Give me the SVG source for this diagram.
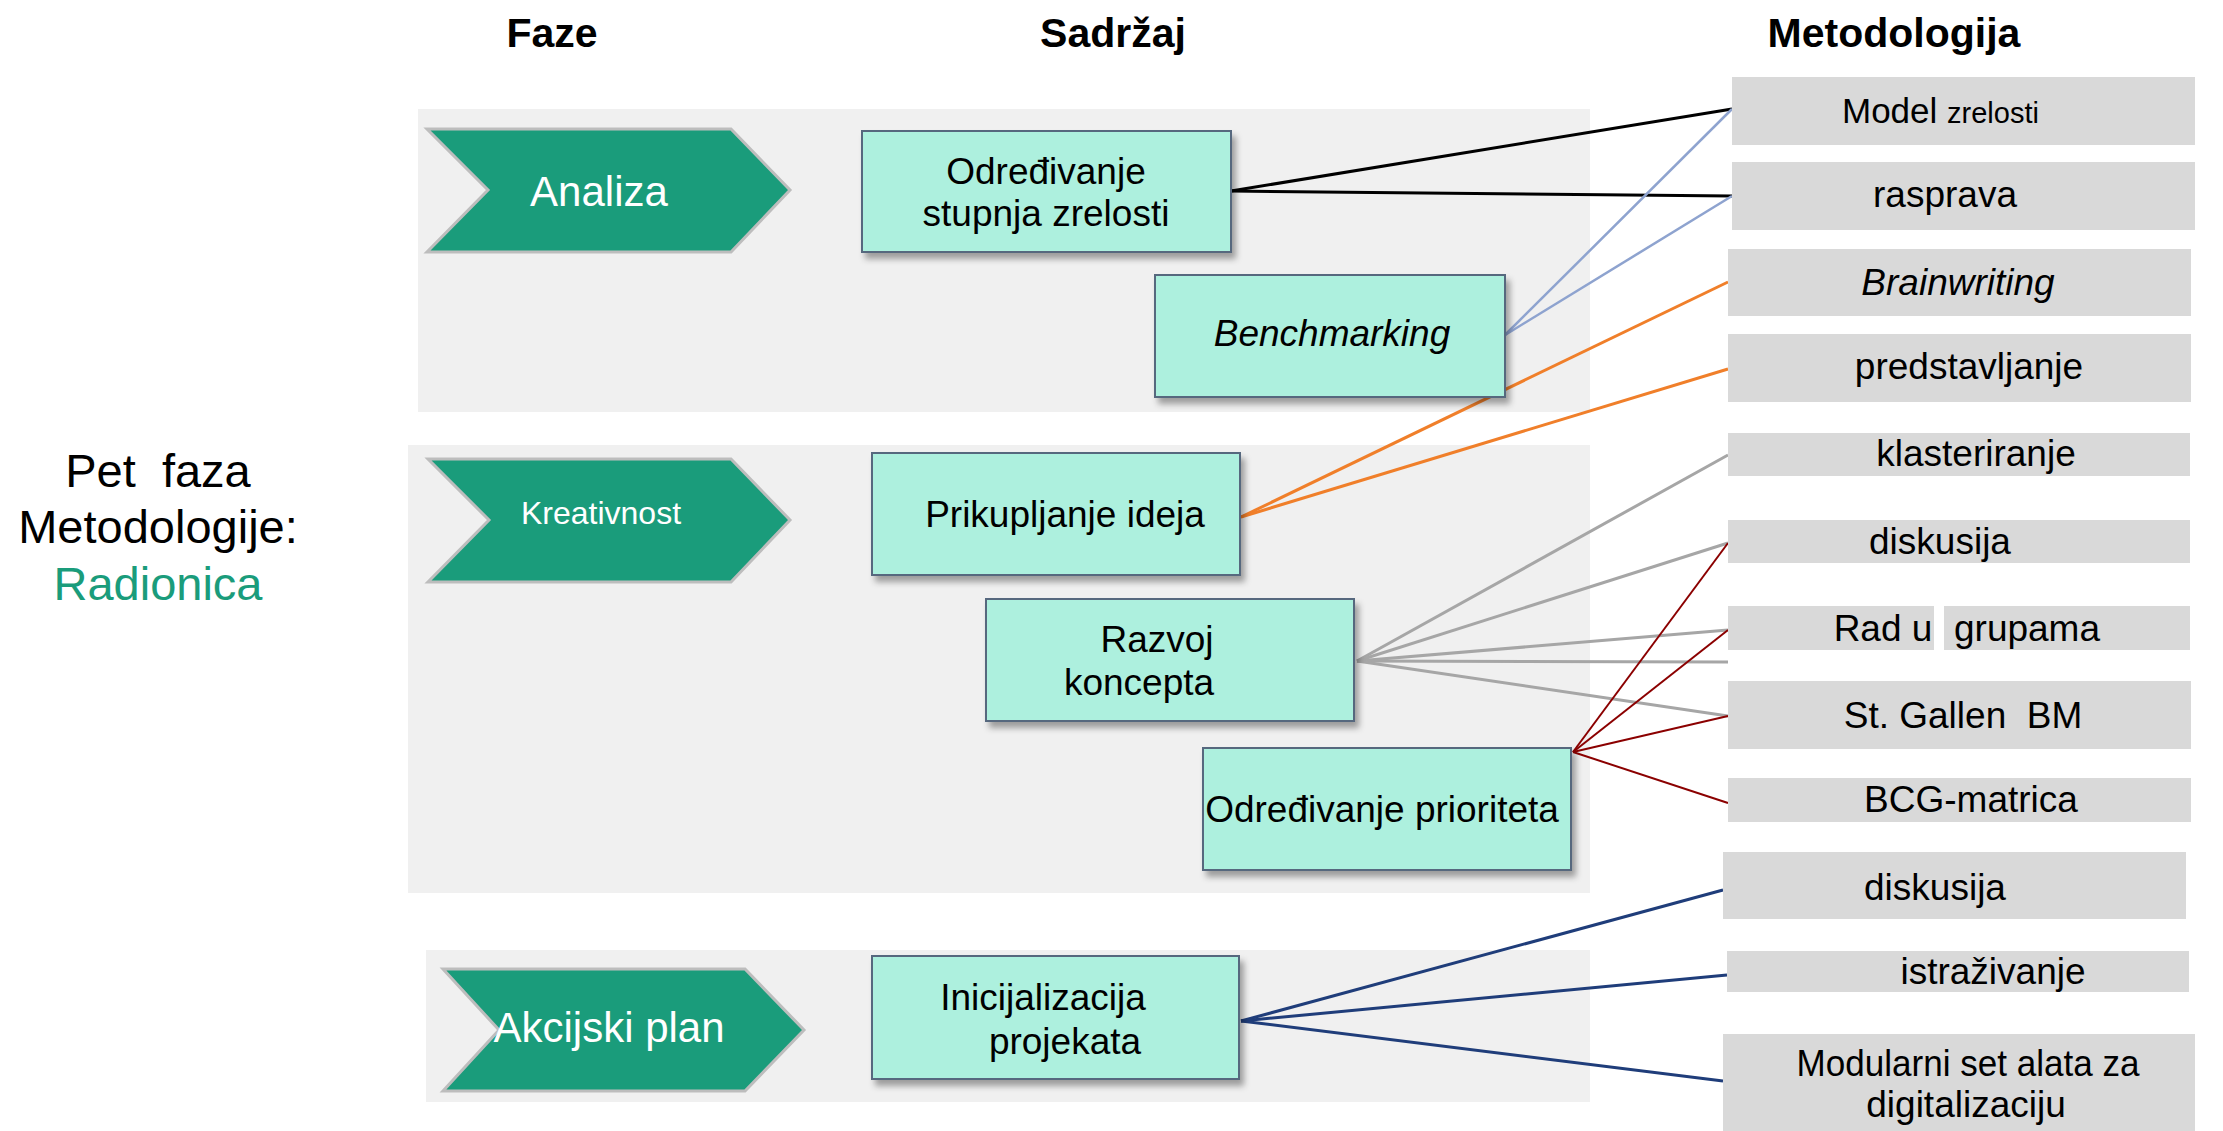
<svg xmlns="http://www.w3.org/2000/svg" width="2223" height="1131" viewBox="0 0 2223 1131">
  <defs>
    <filter id="shadow" x="-10%" y="-10%" width="125%" height="135%">
      <feDropShadow dx="4" dy="6" stdDeviation="3" flood-color="#000" flood-opacity="0.35"/>
    </filter>
    <style>
      text { font-family: "Liberation Sans", Arial, sans-serif; }
      .head { font-size: 41px; font-weight: bold; fill: #000; text-anchor: middle; }
      .side { font-size: 47px; fill: #000; text-anchor: middle; }
      .side.accent { fill: #1a9c7b; }
      .panel { fill: #f0f0f0; }
      .phase { fill: #1a9c7b; stroke: #bdbdbd; stroke-width: 3; }
      .phase-t { fill: #fff; text-anchor: middle; }
      .box { fill: #adf0de; stroke: #56687e; stroke-width: 2; filter: url(#shadow); }
      .box-t { font-size: 37px; fill: #000; text-anchor: middle; }
      .meth { fill: #d9d9d9; }
      .meth-t { font-size: 37px; fill: #000; text-anchor: middle; }
      .c-black { stroke: #000; stroke-width: 3; fill: none; }
      .c-blue { stroke: #8ea3cf; stroke-width: 2.5; fill: none; }
      .c-orange { stroke: #f07f2a; stroke-width: 3; fill: none; }
      .c-gray { stroke: #a6a6a6; stroke-width: 3; fill: none; }
      .c-red { stroke: #8b0000; stroke-width: 2; fill: none; }
      .c-navy { stroke: #1f3d7a; stroke-width: 3; fill: none; }
    </style>
  </defs>

  <rect width="2223" height="1131" fill="#fff"/>

  <!-- column headers -->
  <g id="headers">
    <text class="head" x="552" y="47">Faze</text>
    <text class="head" x="1113" y="47">Sadržaj</text>
    <text class="head" x="1894" y="47">Metodologija</text>
  </g>

  <!-- title on the left -->
  <g id="title">
    <text class="side" x="158" y="487" style="white-space:pre">Pet  faza</text>
    <text class="side" x="158" y="543">Metodologije:</text>
    <text class="side accent" x="158" y="600">Radionica</text>
  </g>

  <!-- background bands per phase -->
  <g id="panels">
    <rect class="panel" x="418" y="109" width="1172" height="303"/>
    <rect class="panel" x="408" y="445" width="1182" height="448"/>
    <rect class="panel" x="426" y="950" width="1164" height="152"/>
  </g>

  <!-- connectors -->
  <g id="connectors">
    <line class="c-black" x1="1231" y1="191" x2="1732" y2="109"/>
    <line class="c-black" x1="1231" y1="191" x2="1732" y2="196"/>
    <line class="c-blue" x1="1505" y1="335" x2="1732" y2="109"/>
    <line class="c-blue" x1="1505" y1="335" x2="1732" y2="196"/>
    <line class="c-orange" x1="1241" y1="517" x2="1728" y2="282"/>
    <line class="c-orange" x1="1241" y1="517" x2="1728" y2="369"/>
    <line class="c-gray" x1="1357" y1="661" x2="1728" y2="455"/>
    <line class="c-gray" x1="1357" y1="661" x2="1728" y2="543"/>
    <line class="c-gray" x1="1357" y1="661" x2="1728" y2="630"/>
    <line class="c-gray" x1="1357" y1="661" x2="1728" y2="662"/>
    <line class="c-gray" x1="1357" y1="661" x2="1728" y2="716"/>
    <line class="c-red" x1="1573" y1="752" x2="1728" y2="543"/>
    <line class="c-red" x1="1573" y1="752" x2="1728" y2="630"/>
    <line class="c-red" x1="1573" y1="752" x2="1728" y2="716" stroke-width="3"/>
    <line class="c-red" x1="1573" y1="752" x2="1728" y2="803" stroke-width="2.5"/>
    <line class="c-navy" x1="1241" y1="1021" x2="1723" y2="890"/>
    <line class="c-navy" x1="1241" y1="1021" x2="1727" y2="975"/>
    <line class="c-navy" x1="1241" y1="1021" x2="1723" y2="1081"/>
  </g>

  <!-- phases -->
  <g id="phase-analiza">
    <polygon class="phase" points="427,129 731,129 790,190 731,252 427,252 488,190"/>
    <text class="phase-t" x="599" y="206" font-size="42">Analiza</text>
  </g>
  <g id="phase-kreativnost">
    <polygon class="phase" points="428,459 731,459 790,520 731,582 428,582 489,520"/>
    <text class="phase-t" x="601" y="524" font-size="32">Kreativnost</text>
  </g>
  <g id="phase-akcijski">
    <polygon class="phase" points="443,969 745,969 804,1030 745,1091 443,1091 499,1030"/>
    <text class="phase-t" x="609" y="1042" font-size="42">Akcijski plan</text>
  </g>

  <!-- content boxes -->
  <g id="c-zrelost">
    <rect class="box" x="862" y="131" width="369" height="121"/>
    <text class="box-t" x="1046" y="184">Određivanje</text>
    <text class="box-t" x="1046" y="226">stupnja zrelosti</text>
  </g>
  <g id="c-benchmarking">
    <rect class="box" x="1155" y="275" width="350" height="122"/>
    <text class="box-t" x="1332" y="346" font-style="italic">Benchmarking</text>
  </g>
  <g id="c-ideje">
    <rect class="box" x="872" y="453" width="368" height="122"/>
    <text class="box-t" x="1065" y="527">Prikupljanje ideja</text>
  </g>
  <g id="c-koncept">
    <rect class="box" x="986" y="599" width="368" height="122"/>
    <text class="box-t" x="1157" y="652">Razvoj</text>
    <text class="box-t" x="1139" y="695">koncepta</text>
  </g>
  <g id="c-prioriteti">
    <rect class="box" x="1203" y="748" width="368" height="122"/>
    <text class="box-t" x="1382" y="822">Određivanje prioriteta</text>
  </g>
  <g id="c-projekti">
    <rect class="box" x="872" y="956" width="367" height="123"/>
    <text class="box-t" x="1043" y="1010">Inicijalizacija</text>
    <text class="box-t" x="1065" y="1054">projekata</text>
  </g>

  <!-- methods -->
  <g id="m-model">
    <rect class="meth" x="1732" y="77" width="463" height="68"/>
    <text x="1842" y="123" font-size="35">Model <tspan font-size="29">zrelosti</tspan></text>
  </g>
  <g id="m-rasprava">
    <rect class="meth" x="1732" y="162" width="463" height="68"/>
    <text class="meth-t" x="1945" y="207">rasprava</text>
  </g>
  <g id="m-brainwriting">
    <rect class="meth" x="1728" y="249" width="463" height="67"/>
    <text class="meth-t" x="1958" y="295" font-style="italic">Brainwriting</text>
  </g>
  <g id="m-predstavljanje">
    <rect class="meth" x="1728" y="334" width="463" height="68"/>
    <text class="meth-t" x="1969" y="379">predstavljanje</text>
  </g>
  <g id="m-klasteriranje">
    <rect class="meth" x="1728" y="433" width="462" height="43"/>
    <text class="meth-t" x="1976" y="466">klasteriranje</text>
  </g>
  <g id="m-diskusija">
    <rect class="meth" x="1728" y="520" width="462" height="43"/>
    <text class="meth-t" x="1940" y="554">diskusija</text>
  </g>
  <g id="m-rad-u-grupama">
    <rect class="meth" x="1728" y="606" width="206" height="44"/>
    <rect class="meth" x="1944" y="606" width="246" height="44"/>
    <text class="meth-t" x="1883" y="641">Rad u</text>
    <text class="meth-t" x="2027" y="641">grupama</text>
  </g>
  <g id="m-st-gallen">
    <rect class="meth" x="1728" y="681" width="463" height="68"/>
    <text class="meth-t" x="1963" y="728" style="white-space:pre">St. Gallen  BM</text>
  </g>
  <g id="m-bcg">
    <rect class="meth" x="1728" y="778" width="463" height="44"/>
    <text class="meth-t" x="1971" y="812">BCG-matrica</text>
  </g>
  <g id="m-diskusija-2">
    <rect class="meth" x="1723" y="852" width="463" height="67"/>
    <text class="meth-t" x="1935" y="900">diskusija</text>
  </g>
  <g id="m-istrazivanje">
    <rect class="meth" x="1727" y="951" width="462" height="41"/>
    <text class="meth-t" x="1993" y="984">istraživanje</text>
  </g>
  <g id="m-modularni">
    <rect class="meth" x="1723" y="1034" width="472" height="97"/>
    <text class="meth-t" x="1968" y="1076" textLength="343" lengthAdjust="spacingAndGlyphs">Modularni set alata za</text>
    <text class="meth-t" x="1966" y="1117">digitalizaciju</text>
  </g>
</svg>
